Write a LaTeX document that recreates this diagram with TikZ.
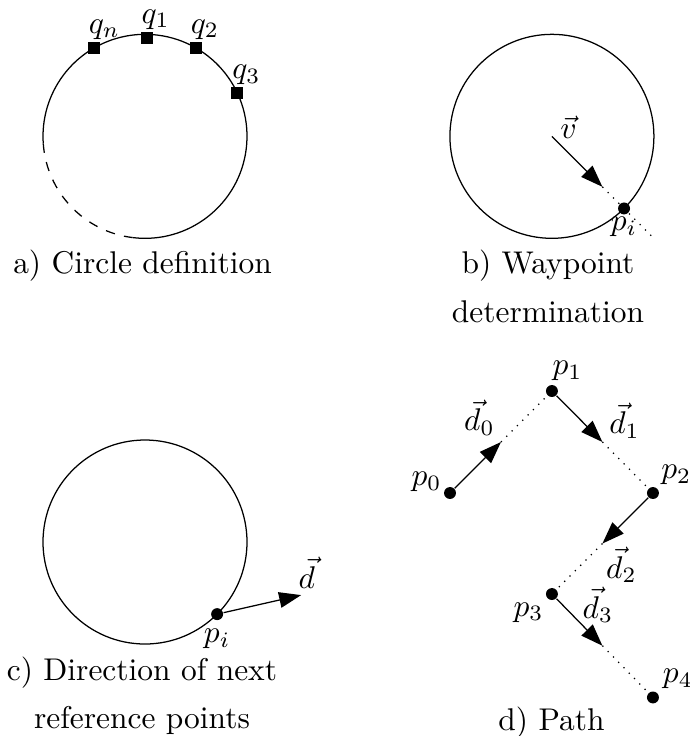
\documentclass[tikz,border=0pt]{standalone}
\usetikzlibrary{positioning,calc,arrows.meta}

\begin{document}
\begin{tikzpicture}[
    marker/.style={fill, rectangle, minimum size=3.8pt, inner sep=0pt},
    dot/.style={fill, circle, minimum size=3.8pt, inner sep=0pt},
    vecarrow/.style={-{Triangle[length=7pt,width=5pt]}},
    lbl/.style={inner sep=1pt},
    caption/.style={align=center, anchor=base}]
  \useasboundingbox (0,0) rectangle (7.718,8.233);

  % a) circle definition
  \coordinate (ca) at (1.622,6.708);
  \draw (ca) ++(-97:1.141) arc[start angle=-97, end angle=184, radius=1.141];
  \draw[dashed] (ca) ++(184:1.141) arc[start angle=184, end angle=263, radius=1.141];
  \node[marker] (qn) at ($(ca)+(120:1.141)$) {};
  \node[marker] (q1) at ($(ca)+(89:1.10)$) {};
  \node[marker] (q2) at ($(ca)+(60:1.141)$) {};
  \node[marker] (q3) at ($(ca)+(25:1.141)$) {};
  \node[lbl, above right=-0.5pt and -0.7pt of qn.north west] (qnlab) {$q_n$};
  \node[lbl, above right=-0.5pt and -0.7pt of q1.north west] (q1lab) {$q_1$};
  \node[lbl, above right=-0.5pt and -0.7pt of q2.north west] (q2lab) {$q_2$};
  \node[lbl, above right=-0.5pt and -0.7pt of q3.north west] (q3lab) {$q_3$};
  \node[caption] (capa) at (1.594,5.179) {a) Circle definition};

  % b) waypoint
  \coordinate (cb) at (6.174,6.708);
  \draw (cb) circle[radius=1.141];
  \node[dot] (pib) at ($(cb)+(-45:1.141)$) {};
  \coordinate (vtip) at ($(cb)!0.7!(pib)$);
  \coordinate (vend) at ($(cb)!1.4!(pib)$);
  \draw[vecarrow] (cb) -- (vtip);
  \draw[dotted] (vtip) -- (vend);
  \node[lbl, above right=-2pt and 1.5pt of cb] (vlab) {$\vec{v}$};
  \node[lbl, below=-0.5pt of pib] (pilab) {$p_i$};
  \node[caption] (capb) at (6.130,4.631) {b) Waypoint\\[3.5pt]determination};

  % c) direction
  \coordinate (cc) at (1.622,2.170);
  \draw (cc) circle[radius=1.141];
  \node[dot] (pic) at ($(cc)+(-45:1.141)$) {};
  \coordinate (dtip) at ($(pic)+(0.94,0.213)$);
  \draw[vecarrow] (pic) -- (dtip);
  \node[lbl, above right=1pt and -2pt of dtip] (dlab) {$\vec{d}$};
  \node[lbl, below=1.5pt of pic] (piclab) {$p_i$};
  \node[caption] (capc) at (1.588,0.089) {c) Direction of next\\[3.2pt]reference points};

  % d) path
  \node[dot] (p0) at (5.034,2.718) {};
  \node[dot] (p1) at (6.174,3.859) {};
  \node[dot] (p2) at (7.304,2.718) {};
  \node[dot] (p3) at (6.174,1.588) {};
  \node[dot] (p4) at (7.304,0.431) {};
  \coordinate (m0) at ($(p0)!0.5!(p1)$);
  \coordinate (m1) at ($(p1)!0.5!(p2)$);
  \coordinate (m2) at ($(p2)!0.5!(p3)$);
  \coordinate (m3) at ($(p3)!0.5!(p4)$);
  \draw[vecarrow] (p0) -- (m0);
  \draw[dotted] (m0) -- (p1);
  \draw[vecarrow] (p1) -- (m1);
  \draw[dotted] (m1) -- (p2);
  \draw[vecarrow] (p2) -- (m2);
  \draw[dotted] (m2) -- (p3);
  \draw[vecarrow] (p3) -- (m3);
  \draw[dotted] (m3) -- (p4);
  \node[lbl, above left=-2.2pt and 0pt of p0] (p0lab) {$p_0$};
  \node[lbl, above right=0pt and -1pt of p1.north] (p1lab) {$p_1$};
  \node[lbl, above right=0pt of p2] (p2lab) {$p_2$};
  \node[lbl, below left=0pt of p3] (p3lab) {$p_3$};
  \node[lbl, above right=0pt and 0.5pt of p4] (p4lab) {$p_4$};
  \node[lbl, above left=1pt and 0.8pt of m0] (d0lab) {$\vec{d}_0$};
  \node[lbl, above right=0pt and 1pt of m1] (d1lab) {$\vec{d}_1$};
  \node[lbl, below right=0pt of m2] (d2lab) {$\vec{d}_2$};
  \node[lbl, right=6.5pt of p3, yshift=-3.5pt] (d3lab) {$\vec{d}_3$};
  \node[caption] (capd) at (6.169,0.067) {d) Path};
\end{tikzpicture}
\end{document}
